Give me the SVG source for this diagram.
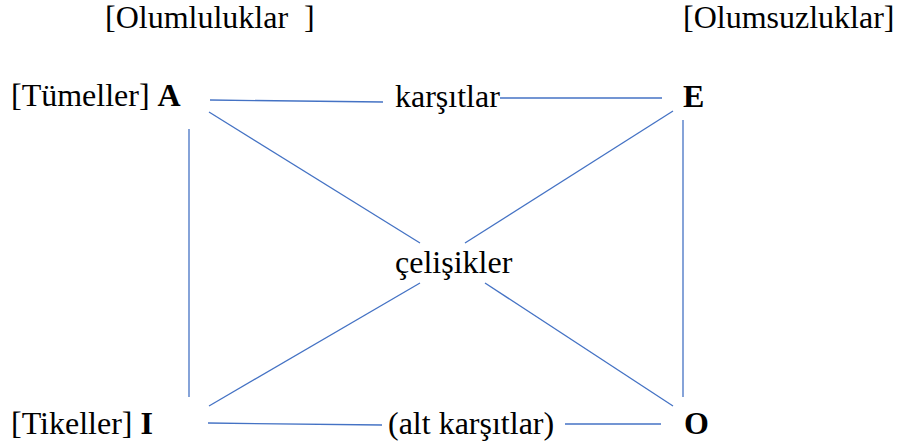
<svg xmlns="http://www.w3.org/2000/svg" width="898" height="446" viewBox="0 0 898 446">
<style>
line{stroke:#4472C4;stroke-width:1.3;fill:none}
</style>
<rect width="898" height="446" fill="#fff"/>
<g id="headers">
<text x="105" y="28" style="font-family:'Liberation Serif',serif;font-size:32px;font-weight:400" xml:space="preserve">[Olumluluklar  ]</text>
<text x="683" y="28" style="font-family:'Liberation Serif',serif;font-size:32px;font-weight:400">[Olumsuzluklar]</text>
</g>
<g id="connectors">
<line x1="210" y1="100" x2="383" y2="102"/>
<line x1="500" y1="98" x2="662" y2="98"/>
<line x1="209" y1="112" x2="420" y2="243"/>
<line x1="673" y1="111" x2="465" y2="243"/>
<line x1="209" y1="406" x2="420" y2="283"/>
<line x1="485" y1="283" x2="673" y2="406"/>
<line x1="189" y1="129" x2="189" y2="397"/>
<line x1="683" y1="120" x2="683" y2="397"/>
<line x1="208" y1="423" x2="382" y2="425"/>
<line x1="565" y1="424" x2="661" y2="424"/>
</g>
<g id="node-A"><text x="11" y="106" style="font-family:'Liberation Serif',serif;font-size:32px;font-weight:400">[Tümeller] <tspan style="font-weight:700">A</tspan></text></g>
<g id="node-E"><text x="683" y="107" style="font-family:'Liberation Serif',serif;font-size:32px;font-weight:700">E</text></g>
<g id="node-I"><text x="11" y="434" style="font-family:'Liberation Serif',serif;font-size:32px;font-weight:400">[Tikeller] <tspan style="font-weight:700">I</tspan></text></g>
<g id="node-O"><text x="684" y="434" style="font-family:'Liberation Serif',serif;font-size:32px;font-weight:700">O</text></g>
<g id="label-karsitlar"><text x="395" y="107" style="font-family:'Liberation Serif',serif;font-size:32px;font-weight:400">karşıtlar</text></g>
<g id="label-celisikler"><text x="395" y="273" style="font-family:'Liberation Serif',serif;font-size:32px;font-weight:400">çelişikler</text></g>
<g id="label-alt"><text x="388" y="434" style="font-family:'Liberation Serif',serif;font-size:32px;font-weight:400">(alt karşıtlar)</text></g>
</svg>
